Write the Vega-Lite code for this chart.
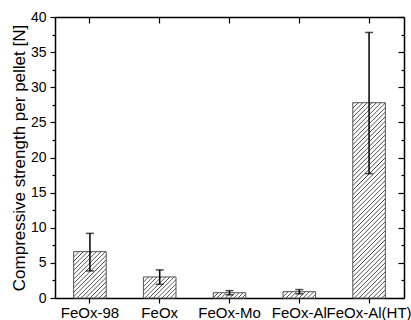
{
  "$schema": "https://vega.github.io/schema/vega-lite/v6.json",
  "width": 349,
  "height": 281,
  "autosize": {"type": "none"},
  "padding": {"left": 55, "top": 17, "right": 7, "bottom": 22},
  "background": "white",
  "config": {
    "view": {"stroke": null},
    "font": "Liberation Sans",
    "axis": {
      "domainColor": "black",
      "domainWidth": 1.5,
      "tickColor": "black",
      "tickWidth": 1.2,
      "grid": false,
      "labelFont": "Liberation Sans",
      "labelFontSize": 14,
      "labelColor": "black",
      "titleFont": "Liberation Sans",
      "titleFontWeight": "normal",
      "titleColor": "black"
    }
  },
  "data": {
    "values": [
      {"sample": "FeOx-98", "value": 6.6, "lo": 3.85, "hi": 9.2},
      {"sample": "FeOx", "value": 3.0, "lo": 1.95, "hi": 4.0},
      {"sample": "FeOx-Mo", "value": 0.75, "lo": 0.45, "hi": 1.05},
      {"sample": "FeOx-Al", "value": 0.9, "lo": 0.6, "hi": 1.2},
      {"sample": "FeOx-Al(HT)", "value": 27.8, "lo": 17.7, "hi": 37.8}
    ]
  },
  "layer": [
    {
      "mark": {"type": "bar", "stroke": "#555555", "strokeWidth": 1},
      "encoding": {
        "x": {
          "field": "sample", "type": "nominal", "sort": null,
          "scale": {"paddingInner": 0.533, "paddingOuter": 0.267},
          "axis": {"orient": "bottom", "title": null, "labelAngle": 0, "tickSize": 5, "labelPadding": 2, "labelFontSize": 15}
        },
        "y": {
          "field": "value", "type": "quantitative",
          "scale": {"domain": [0, 40], "nice": false},
          "axis": {
            "orient": "left",
            "title": "Compressive strength per pellet [N]",
            "titleFontSize": 17,
            "titlePadding": 2,
            "values": [0, 2.5, 5, 7.5, 10, 12.5, 15, 17.5, 20, 22.5, 25, 27.5, 30, 32.5, 35, 37.5, 40],
            "labelExpr": "datum.value % 5 === 0 ? datum.label : ''",
            "tickSize": {"condition": {"test": "datum.value % 5 === 0", "value": 5}, "value": 3},
            "labelPadding": 4
          }
        },
        "fill": {
          "condition": [
            {"test": "datum.sample === 'FeOx-Al(HT)'", "value": {"gradient": "linear", "x1": 0, "y1": 0, "x2": 0.1895, "y2": 1.1353, "stops": [
              {"offset": 0, "color": "#ffffff"}, {"offset": 0.004, "color": "#3c3c3c"}, {"offset": 0.008, "color": "#ffffff"},
              {"offset": 0.02, "color": "#ffffff"}, {"offset": 0.024, "color": "#3c3c3c"}, {"offset": 0.028, "color": "#ffffff"},
              {"offset": 0.04, "color": "#ffffff"}, {"offset": 0.044, "color": "#3c3c3c"}, {"offset": 0.048, "color": "#ffffff"},
              {"offset": 0.06, "color": "#ffffff"}, {"offset": 0.064, "color": "#3c3c3c"}, {"offset": 0.068, "color": "#ffffff"},
              {"offset": 0.08, "color": "#ffffff"}, {"offset": 0.084, "color": "#3c3c3c"}, {"offset": 0.088, "color": "#ffffff"},
              {"offset": 0.10, "color": "#ffffff"}, {"offset": 0.104, "color": "#3c3c3c"}, {"offset": 0.108, "color": "#ffffff"},
              {"offset": 0.12, "color": "#ffffff"}, {"offset": 0.124, "color": "#3c3c3c"}, {"offset": 0.128, "color": "#ffffff"},
              {"offset": 0.14, "color": "#ffffff"}, {"offset": 0.144, "color": "#3c3c3c"}, {"offset": 0.148, "color": "#ffffff"},
              {"offset": 0.16, "color": "#ffffff"}, {"offset": 0.164, "color": "#3c3c3c"}, {"offset": 0.168, "color": "#ffffff"},
              {"offset": 0.18, "color": "#ffffff"}, {"offset": 0.184, "color": "#3c3c3c"}, {"offset": 0.188, "color": "#ffffff"},
              {"offset": 0.20, "color": "#ffffff"}, {"offset": 0.204, "color": "#3c3c3c"}, {"offset": 0.208, "color": "#ffffff"},
              {"offset": 0.22, "color": "#ffffff"}, {"offset": 0.224, "color": "#3c3c3c"}, {"offset": 0.228, "color": "#ffffff"},
              {"offset": 0.24, "color": "#ffffff"}, {"offset": 0.244, "color": "#3c3c3c"}, {"offset": 0.248, "color": "#ffffff"},
              {"offset": 0.26, "color": "#ffffff"}, {"offset": 0.264, "color": "#3c3c3c"}, {"offset": 0.268, "color": "#ffffff"},
              {"offset": 0.28, "color": "#ffffff"}, {"offset": 0.284, "color": "#3c3c3c"}, {"offset": 0.288, "color": "#ffffff"},
              {"offset": 0.30, "color": "#ffffff"}, {"offset": 0.304, "color": "#3c3c3c"}, {"offset": 0.308, "color": "#ffffff"},
              {"offset": 0.32, "color": "#ffffff"}, {"offset": 0.324, "color": "#3c3c3c"}, {"offset": 0.328, "color": "#ffffff"},
              {"offset": 0.34, "color": "#ffffff"}, {"offset": 0.344, "color": "#3c3c3c"}, {"offset": 0.348, "color": "#ffffff"},
              {"offset": 0.36, "color": "#ffffff"}, {"offset": 0.364, "color": "#3c3c3c"}, {"offset": 0.368, "color": "#ffffff"},
              {"offset": 0.38, "color": "#ffffff"}, {"offset": 0.384, "color": "#3c3c3c"}, {"offset": 0.388, "color": "#ffffff"},
              {"offset": 0.40, "color": "#ffffff"}, {"offset": 0.404, "color": "#3c3c3c"}, {"offset": 0.408, "color": "#ffffff"},
              {"offset": 0.42, "color": "#ffffff"}, {"offset": 0.424, "color": "#3c3c3c"}, {"offset": 0.428, "color": "#ffffff"},
              {"offset": 0.44, "color": "#ffffff"}, {"offset": 0.444, "color": "#3c3c3c"}, {"offset": 0.448, "color": "#ffffff"},
              {"offset": 0.46, "color": "#ffffff"}, {"offset": 0.464, "color": "#3c3c3c"}, {"offset": 0.468, "color": "#ffffff"},
              {"offset": 0.48, "color": "#ffffff"}, {"offset": 0.484, "color": "#3c3c3c"}, {"offset": 0.488, "color": "#ffffff"},
              {"offset": 0.50, "color": "#ffffff"}, {"offset": 0.504, "color": "#3c3c3c"}, {"offset": 0.508, "color": "#ffffff"},
              {"offset": 0.52, "color": "#ffffff"}, {"offset": 0.524, "color": "#3c3c3c"}, {"offset": 0.528, "color": "#ffffff"},
              {"offset": 0.54, "color": "#ffffff"}, {"offset": 0.544, "color": "#3c3c3c"}, {"offset": 0.548, "color": "#ffffff"},
              {"offset": 0.56, "color": "#ffffff"}, {"offset": 0.564, "color": "#3c3c3c"}, {"offset": 0.568, "color": "#ffffff"},
              {"offset": 0.58, "color": "#ffffff"}, {"offset": 0.584, "color": "#3c3c3c"}, {"offset": 0.588, "color": "#ffffff"},
              {"offset": 0.60, "color": "#ffffff"}, {"offset": 0.604, "color": "#3c3c3c"}, {"offset": 0.608, "color": "#ffffff"},
              {"offset": 0.62, "color": "#ffffff"}, {"offset": 0.624, "color": "#3c3c3c"}, {"offset": 0.628, "color": "#ffffff"},
              {"offset": 0.64, "color": "#ffffff"}, {"offset": 0.644, "color": "#3c3c3c"}, {"offset": 0.648, "color": "#ffffff"},
              {"offset": 0.66, "color": "#ffffff"}, {"offset": 0.664, "color": "#3c3c3c"}, {"offset": 0.668, "color": "#ffffff"},
              {"offset": 0.68, "color": "#ffffff"}, {"offset": 0.684, "color": "#3c3c3c"}, {"offset": 0.688, "color": "#ffffff"},
              {"offset": 0.70, "color": "#ffffff"}, {"offset": 0.704, "color": "#3c3c3c"}, {"offset": 0.708, "color": "#ffffff"},
              {"offset": 0.72, "color": "#ffffff"}, {"offset": 0.724, "color": "#3c3c3c"}, {"offset": 0.728, "color": "#ffffff"},
              {"offset": 0.74, "color": "#ffffff"}, {"offset": 0.744, "color": "#3c3c3c"}, {"offset": 0.748, "color": "#ffffff"},
              {"offset": 0.76, "color": "#ffffff"}, {"offset": 0.764, "color": "#3c3c3c"}, {"offset": 0.768, "color": "#ffffff"},
              {"offset": 0.78, "color": "#ffffff"}, {"offset": 0.784, "color": "#3c3c3c"}, {"offset": 0.788, "color": "#ffffff"},
              {"offset": 0.80, "color": "#ffffff"}, {"offset": 0.804, "color": "#3c3c3c"}, {"offset": 0.808, "color": "#ffffff"},
              {"offset": 0.82, "color": "#ffffff"}, {"offset": 0.824, "color": "#3c3c3c"}, {"offset": 0.828, "color": "#ffffff"},
              {"offset": 0.84, "color": "#ffffff"}, {"offset": 0.844, "color": "#3c3c3c"}, {"offset": 0.848, "color": "#ffffff"},
              {"offset": 0.86, "color": "#ffffff"}, {"offset": 0.864, "color": "#3c3c3c"}, {"offset": 0.868, "color": "#ffffff"},
              {"offset": 0.88, "color": "#ffffff"}, {"offset": 0.884, "color": "#3c3c3c"}, {"offset": 0.888, "color": "#ffffff"},
              {"offset": 0.90, "color": "#ffffff"}, {"offset": 0.904, "color": "#3c3c3c"}, {"offset": 0.908, "color": "#ffffff"},
              {"offset": 0.92, "color": "#ffffff"}, {"offset": 0.924, "color": "#3c3c3c"}, {"offset": 0.928, "color": "#ffffff"},
              {"offset": 0.94, "color": "#ffffff"}, {"offset": 0.944, "color": "#3c3c3c"}, {"offset": 0.948, "color": "#ffffff"},
              {"offset": 0.96, "color": "#ffffff"}, {"offset": 0.964, "color": "#3c3c3c"}, {"offset": 0.968, "color": "#ffffff"},
              {"offset": 0.98, "color": "#ffffff"}, {"offset": 0.984, "color": "#3c3c3c"}, {"offset": 0.988, "color": "#ffffff"}
            ]}},
            {"test": "datum.sample === 'FeOx-98'", "value": {"gradient": "linear", "x1": 0, "y1": 0, "x2": 0.8009, "y2": 1.1399, "stops": [
              {"offset": 0, "color": "#ffffff"}, {"offset": 0.0112, "color": "#3c3c3c"}, {"offset": 0.0224, "color": "#ffffff"},
              {"offset": 0.056, "color": "#ffffff"}, {"offset": 0.0672, "color": "#3c3c3c"}, {"offset": 0.0784, "color": "#ffffff"},
              {"offset": 0.112, "color": "#ffffff"}, {"offset": 0.1232, "color": "#3c3c3c"}, {"offset": 0.1344, "color": "#ffffff"},
              {"offset": 0.168, "color": "#ffffff"}, {"offset": 0.1792, "color": "#3c3c3c"}, {"offset": 0.1904, "color": "#ffffff"},
              {"offset": 0.224, "color": "#ffffff"}, {"offset": 0.2352, "color": "#3c3c3c"}, {"offset": 0.2464, "color": "#ffffff"},
              {"offset": 0.28, "color": "#ffffff"}, {"offset": 0.2912, "color": "#3c3c3c"}, {"offset": 0.3024, "color": "#ffffff"},
              {"offset": 0.336, "color": "#ffffff"}, {"offset": 0.3472, "color": "#3c3c3c"}, {"offset": 0.3584, "color": "#ffffff"},
              {"offset": 0.392, "color": "#ffffff"}, {"offset": 0.4032, "color": "#3c3c3c"}, {"offset": 0.4144, "color": "#ffffff"},
              {"offset": 0.448, "color": "#ffffff"}, {"offset": 0.4592, "color": "#3c3c3c"}, {"offset": 0.4704, "color": "#ffffff"},
              {"offset": 0.504, "color": "#ffffff"}, {"offset": 0.5152, "color": "#3c3c3c"}, {"offset": 0.5264, "color": "#ffffff"},
              {"offset": 0.56, "color": "#ffffff"}, {"offset": 0.5712, "color": "#3c3c3c"}, {"offset": 0.5824, "color": "#ffffff"},
              {"offset": 0.616, "color": "#ffffff"}, {"offset": 0.6272, "color": "#3c3c3c"}, {"offset": 0.6384, "color": "#ffffff"},
              {"offset": 0.672, "color": "#ffffff"}, {"offset": 0.6832, "color": "#3c3c3c"}, {"offset": 0.6944, "color": "#ffffff"},
              {"offset": 0.728, "color": "#ffffff"}, {"offset": 0.7392, "color": "#3c3c3c"}, {"offset": 0.7504, "color": "#ffffff"},
              {"offset": 0.784, "color": "#ffffff"}, {"offset": 0.7952, "color": "#3c3c3c"}, {"offset": 0.8064, "color": "#ffffff"},
              {"offset": 0.84, "color": "#ffffff"}, {"offset": 0.8512, "color": "#3c3c3c"}, {"offset": 0.8624, "color": "#ffffff"},
              {"offset": 0.896, "color": "#ffffff"}, {"offset": 0.9072, "color": "#3c3c3c"}, {"offset": 0.9184, "color": "#ffffff"},
              {"offset": 0.952, "color": "#ffffff"}, {"offset": 0.9632, "color": "#3c3c3c"}, {"offset": 0.9744, "color": "#ffffff"}
            ]}},
            {"test": "datum.sample === 'FeOx'", "value": {"gradient": "linear", "x1": 0, "y1": 0, "x2": 1.1617, "y2": 0.7519, "stops": [
              {"offset": 0, "color": "#ffffff"}, {"offset": 0.016, "color": "#3c3c3c"}, {"offset": 0.032, "color": "#ffffff"},
              {"offset": 0.08, "color": "#ffffff"}, {"offset": 0.096, "color": "#3c3c3c"}, {"offset": 0.112, "color": "#ffffff"},
              {"offset": 0.16, "color": "#ffffff"}, {"offset": 0.176, "color": "#3c3c3c"}, {"offset": 0.192, "color": "#ffffff"},
              {"offset": 0.24, "color": "#ffffff"}, {"offset": 0.256, "color": "#3c3c3c"}, {"offset": 0.272, "color": "#ffffff"},
              {"offset": 0.32, "color": "#ffffff"}, {"offset": 0.336, "color": "#3c3c3c"}, {"offset": 0.352, "color": "#ffffff"},
              {"offset": 0.40, "color": "#ffffff"}, {"offset": 0.416, "color": "#3c3c3c"}, {"offset": 0.432, "color": "#ffffff"},
              {"offset": 0.48, "color": "#ffffff"}, {"offset": 0.496, "color": "#3c3c3c"}, {"offset": 0.512, "color": "#ffffff"},
              {"offset": 0.56, "color": "#ffffff"}, {"offset": 0.576, "color": "#3c3c3c"}, {"offset": 0.592, "color": "#ffffff"},
              {"offset": 0.64, "color": "#ffffff"}, {"offset": 0.656, "color": "#3c3c3c"}, {"offset": 0.672, "color": "#ffffff"},
              {"offset": 0.72, "color": "#ffffff"}, {"offset": 0.736, "color": "#3c3c3c"}, {"offset": 0.752, "color": "#ffffff"},
              {"offset": 0.80, "color": "#ffffff"}, {"offset": 0.816, "color": "#3c3c3c"}, {"offset": 0.832, "color": "#ffffff"},
              {"offset": 0.88, "color": "#ffffff"}, {"offset": 0.896, "color": "#3c3c3c"}, {"offset": 0.912, "color": "#ffffff"},
              {"offset": 0.96, "color": "#ffffff"}, {"offset": 0.976, "color": "#3c3c3c"}, {"offset": 0.992, "color": "#ffffff"}
            ]}},
            {"test": "datum.sample === 'FeOx-Mo'", "value": {"gradient": "linear", "x1": 0, "y1": 0, "x2": 1.132, "y2": 0.183, "stops": [
              {"offset": 0, "color": "#ffffff"}, {"offset": 0.022, "color": "#3c3c3c"}, {"offset": 0.044, "color": "#ffffff"},
              {"offset": 0.11, "color": "#ffffff"}, {"offset": 0.132, "color": "#3c3c3c"}, {"offset": 0.154, "color": "#ffffff"},
              {"offset": 0.22, "color": "#ffffff"}, {"offset": 0.242, "color": "#3c3c3c"}, {"offset": 0.264, "color": "#ffffff"},
              {"offset": 0.33, "color": "#ffffff"}, {"offset": 0.352, "color": "#3c3c3c"}, {"offset": 0.374, "color": "#ffffff"},
              {"offset": 0.44, "color": "#ffffff"}, {"offset": 0.462, "color": "#3c3c3c"}, {"offset": 0.484, "color": "#ffffff"},
              {"offset": 0.55, "color": "#ffffff"}, {"offset": 0.572, "color": "#3c3c3c"}, {"offset": 0.594, "color": "#ffffff"},
              {"offset": 0.66, "color": "#ffffff"}, {"offset": 0.682, "color": "#3c3c3c"}, {"offset": 0.704, "color": "#ffffff"},
              {"offset": 0.77, "color": "#ffffff"}, {"offset": 0.792, "color": "#3c3c3c"}, {"offset": 0.814, "color": "#ffffff"},
              {"offset": 0.88, "color": "#ffffff"}, {"offset": 0.902, "color": "#3c3c3c"}, {"offset": 0.924, "color": "#ffffff"}
            ]}}
          ],
          "value": {"gradient": "linear", "x1": 0, "y1": 0, "x2": 1.1507, "y2": 0.2231, "stops": [
            {"offset": 0, "color": "#ffffff"}, {"offset": 0.022, "color": "#3c3c3c"}, {"offset": 0.044, "color": "#ffffff"},
            {"offset": 0.11, "color": "#ffffff"}, {"offset": 0.132, "color": "#3c3c3c"}, {"offset": 0.154, "color": "#ffffff"},
            {"offset": 0.22, "color": "#ffffff"}, {"offset": 0.242, "color": "#3c3c3c"}, {"offset": 0.264, "color": "#ffffff"},
            {"offset": 0.33, "color": "#ffffff"}, {"offset": 0.352, "color": "#3c3c3c"}, {"offset": 0.374, "color": "#ffffff"},
            {"offset": 0.44, "color": "#ffffff"}, {"offset": 0.462, "color": "#3c3c3c"}, {"offset": 0.484, "color": "#ffffff"},
            {"offset": 0.55, "color": "#ffffff"}, {"offset": 0.572, "color": "#3c3c3c"}, {"offset": 0.594, "color": "#ffffff"},
            {"offset": 0.66, "color": "#ffffff"}, {"offset": 0.682, "color": "#3c3c3c"}, {"offset": 0.704, "color": "#ffffff"},
            {"offset": 0.77, "color": "#ffffff"}, {"offset": 0.792, "color": "#3c3c3c"}, {"offset": 0.814, "color": "#ffffff"},
            {"offset": 0.88, "color": "#ffffff"}, {"offset": 0.902, "color": "#3c3c3c"}, {"offset": 0.924, "color": "#ffffff"}
          ]}
        }
      }
    },
    {
      "mark": {"type": "rule", "strokeWidth": 1.5, "color": "black"},
      "encoding": {
        "x": {
          "field": "sample", "type": "nominal", "sort": null,
          "axis": {"orient": "top", "labels": false, "title": null, "tickSize": -6}
        },
        "y": {
          "field": "lo", "type": "quantitative",
          "axis": {
            "orient": "right", "labels": false, "title": null,
            "values": [0, 2.5, 5, 7.5, 10, 12.5, 15, 17.5, 20, 22.5, 25, 27.5, 30, 32.5, 35, 37.5, 40],
            "tickSize": {"condition": {"test": "datum.value % 5 === 0", "value": -6}, "value": -3}
          }
        },
        "y2": {"field": "hi"}
      }
    },
    {
      "mark": {"type": "tick", "size": 8, "thickness": 1.5, "color": "black"},
      "encoding": {
        "x": {"field": "sample", "type": "nominal", "sort": null, "axis": null},
        "y": {"field": "hi", "type": "quantitative", "axis": null}
      }
    },
    {
      "mark": {"type": "tick", "size": 8, "thickness": 1.5, "color": "black"},
      "encoding": {
        "x": {"field": "sample", "type": "nominal", "sort": null, "axis": null},
        "y": {"field": "lo", "type": "quantitative", "axis": null}
      }
    }
  ],
  "resolve": {"axis": {"x": "independent", "y": "independent"}}
}
